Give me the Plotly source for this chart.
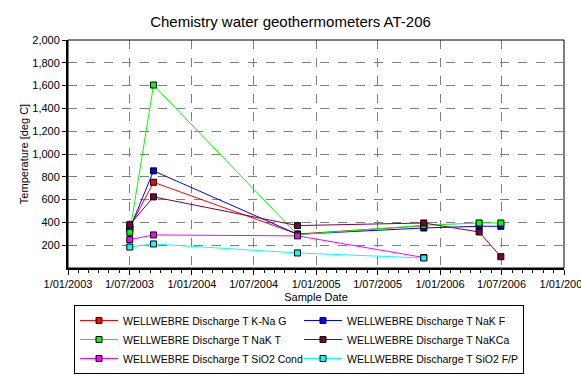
import plotly.graph_objects as go

dates = ["2003-07-02", "2003-09-10", "2004-11-07", "2005-11-14", "2006-04-26", "2006-06-29"]

series_names = [
    "WELLWEBRE Discharge T K-Na G",
    "WELLWEBRE Discharge T NaK F",
    "WELLWEBRE Discharge T NaK T",
    "WELLWEBRE Discharge T NaKCa",
    "WELLWEBRE Discharge T SiO2 Cond",
    "WELLWEBRE Discharge T SiO2 F/P",
]
kna_g = [355, 752, 298, 370, None, None]
nak_f = [345, 852, 296, 351, 366, 366]
nak_t = [313, 1605, 292, 374, 395, 395]
nakca = [380, 624, 372, 395, 316, 99]
sio2_cond = [249, 290, 282, 92, None, None]
sio2_fp = [184, 211, 132, 88, None, None]
series_values = [kna_g, nak_f, nak_t, nakca, sio2_cond, sio2_fp]
series_colors = ["#ff0000", "#0000ff", "#00ff00", "#800040", "#ff00ff", "#00ffff"]

y_ticks = [200, 400, 600, 800, 1000, 1200, 1400, 1600, 1800, 2000]

fig = go.Figure()
for name, vals, col in zip(series_names, series_values, series_colors):
    xs = [d for d, v in zip(dates, vals) if v is not None]
    ys = [v for v in vals if v is not None]
    fig.add_trace(go.Scatter(
        x=xs, y=ys, mode="lines+markers", name=name,
        line=dict(color=col, width=1),
        marker=dict(symbol="square", size=6, color=col, line=dict(color="black", width=1)),
    ))

font_family = "Liberation Sans, Arial, sans-serif"
fig.update_layout(
    width=581, height=378,
    margin=dict(l=68, r=17, t=40, b=110, autoexpand=False),
    paper_bgcolor="white", plot_bgcolor="white",
    font=dict(family=font_family, size=11, color="black"),
    title=dict(text="Chemistry water geothermometers AT-206", x=0.5, xref="container",
               y=1 - 22 / 378, yref="container", yanchor="middle",
               font=dict(size=15, family=font_family, color="black")),
    showlegend=True,
    legend=dict(
        orientation="h", xref="container", yref="container",
        x=74 / 581, xanchor="left", y=1 - 305 / 378, yanchor="top",
        bordercolor="black", borderwidth=1, bgcolor="white",
        entrywidth=171, entrywidthmode="pixels", itemwidth=38,
        font=dict(size=10.5, family=font_family, color="black"),
        traceorder="normal",
    ),
)
fig.update_xaxes(
    type="date", range=["2003-01-01", "2007-01-01"],
    tick0="2003-01-01", dtick="M6", tickformat="%-d/%m/%Y",
    ticklabeloverflow="allow", automargin=False,
    showgrid=True, gridcolor="#808080", griddash="dash", gridwidth=1,
    showline=True, linecolor="black", linewidth=2,
    ticks="outside", ticklen=5, tickcolor="black",
    minor=dict(dtick="M1", ticks="outside", ticklen=3, tickcolor="black", showgrid=False),
    title=dict(text="Sample Date", standoff=4, font=dict(size=11)),
    zeroline=False,
)
fig.update_yaxes(
    range=[0, 2000], tickvals=y_ticks, tickformat=",d", automargin=False,
    showgrid=True, gridcolor="#808080", griddash="dash", gridwidth=1,
    showline=True, linecolor="black", linewidth=2,
    ticks="outside", ticklen=4, tickcolor="black",
    title=dict(text="Temperature [deg C]", standoff=1, font=dict(size=11)),
    zeroline=False,
)
fig.add_shape(type="rect", xref="paper", yref="paper", x0=0, x1=1, y0=0, y1=1,
              line=dict(color="black", width=1), layer="above")

fig.write_html("out.html", config={"displayModeBar": False},
               post_script="document.body.style.margin='0';document.body.style.overflow='hidden';")
